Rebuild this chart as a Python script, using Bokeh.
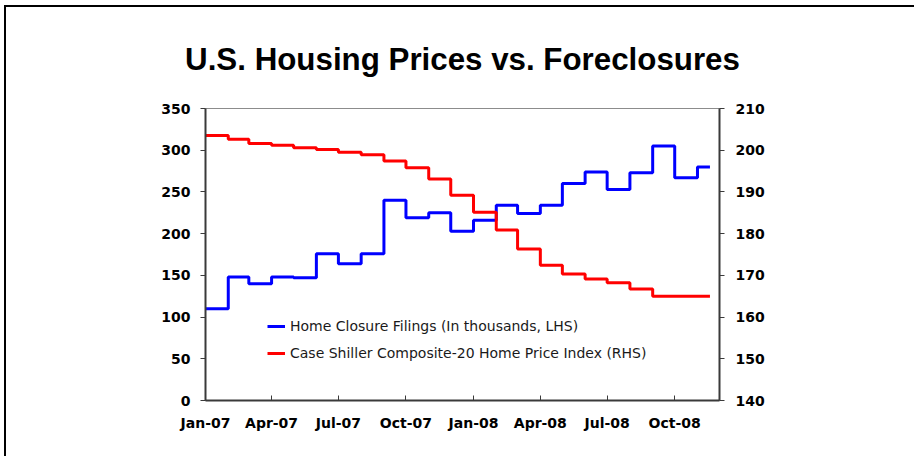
import pandas as pd
from bokeh.plotting import figure
from bokeh.models import Range1d, LinearAxis, FixedTicker, Legend
from bokeh.embed import file_html
from bokeh.resources import INLINE

# ---- data ----
start_month = "2007-01-01"
series_end = "2008-11-18"
axis_end = "2008-12-01"
foreclosures = [110, 148, 140, 148, 147, 176, 164, 176, 240, 219, 225, 203,
                216, 234, 224, 234, 260, 274, 253, 273, 305, 267, 280]
case_shiller = [203.5, 202.6, 201.6, 201.2, 200.6, 200.2, 199.5, 198.9, 197.4, 195.8, 193.1, 189.2,
                185.1, 180.9, 176.3, 172.4, 170.3, 169.1, 168.2, 166.7, 165.0, 165.0, 165.0]
tick_dates = ["2007-01-01", "2007-04-01", "2007-07-01", "2007-10-01",
              "2008-01-01", "2008-04-01", "2008-07-01", "2008-10-01"]
tick_labels = ["Jan-07", "Apr-07", "Jul-07", "Oct-07", "Jan-08", "Apr-08", "Jul-08", "Oct-08"]
lhs_ticks = [0, 50, 100, 150, 200, 250, 300, 350]
rhs_ticks = [140, 150, 160, 170, 180, 190, 200, 210]
title_text = "U.S. Housing Prices vs. Foreclosures"
label_lhs = "Home Closure Filings (In thousands, LHS)"
label_rhs = "Case Shiller Composite-20 Home Price Index (RHS)"

t0 = pd.Timestamp(start_month)
months = pd.date_range(start_month, periods=len(foreclosures), freq="MS")
xs = [(d - t0).days for d in months] + [(pd.Timestamp(series_end) - t0).days]
x_max = (pd.Timestamp(axis_end) - t0).days
tick_pos = [(pd.Timestamp(d) - t0).days for d in tick_dates]

fc_y = foreclosures + [foreclosures[-1]]
cs_y = case_shiller + [case_shiller[-1]]

AX = "#3a3a3a"
TICK_FONT = "DejaVu Sans"
# chart-area border sits at (4,5); canvas starts just inside it at (6,7)
OFF_X, OFF_Y = 6, 7
FRAME_LEFT, FRAME_TOP, FRAME_RIGHT, FRAME_BOTTOM = 205 - OFF_X, 108 - OFF_Y, 719 - OFF_X, 400 - OFF_Y
W, H = 910, 451

p = figure(width=W, height=H, output_backend="svg", toolbar_location=None,
           x_range=Range1d(0, x_max), y_range=Range1d(0, 350),
           min_border_left=FRAME_LEFT, min_border_right=W - FRAME_RIGHT,
           min_border_top=FRAME_TOP, min_border_bottom=H - FRAME_BOTTOM,
           title=title_text)
p.margin = (OFF_Y - 2, 0, 0, OFF_X - 2)
p.styles = {"border-top": "2px solid #000000", "border-left": "2px solid #000000"}

p.title.align = "center"
p.title.text_font = "Liberation Sans"
p.title.text_font_size = "31.3px"
p.title.text_font_style = "bold"
p.title.text_color = "#000000"
p.title.standoff = 63

p.extra_y_ranges = {"rhs": Range1d(140, 210)}

p.grid.visible = False
p.outline_line_color = "#8c8c8c"
p.outline_line_width = 1
p.background_fill_color = "white"
p.border_fill_color = "white"

# x axis
xa = p.xaxis[0]
xa.ticker = FixedTicker(ticks=tick_pos)
xa.major_label_overrides = {tp: lab for tp, lab in zip(tick_pos, tick_labels)}
xa.major_tick_in = 5
xa.major_tick_out = 0
xa.minor_tick_line_color = None
xa.axis_line_color = AX
xa.axis_line_width = 2
xa.major_tick_line_color = AX
xa.major_label_text_font = TICK_FONT
xa.major_label_text_font_style = "bold"
xa.major_label_text_font_size = "14px"
xa.major_label_text_color = "#000000"
xa.major_label_standoff = 14

# left axis
ya = p.yaxis[0]
ya.ticker = FixedTicker(ticks=lhs_ticks)
ya.major_tick_in = 0
ya.major_tick_out = 5
ya.minor_tick_line_color = None
ya.axis_line_color = AX
ya.axis_line_width = 2
ya.major_tick_line_color = AX
ya.major_label_text_font = TICK_FONT
ya.major_label_text_font_style = "bold"
ya.major_label_text_font_size = "14px"
ya.major_label_text_color = "#000000"
ya.major_label_standoff = 10

# right axis
ra = LinearAxis(y_range_name="rhs", ticker=FixedTicker(ticks=rhs_ticks))
ra.major_tick_in = 0
ra.major_tick_out = 5
ra.minor_tick_line_color = None
ra.axis_line_color = AX
ra.axis_line_width = 2
ra.major_tick_line_color = AX
ra.major_label_text_font = TICK_FONT
ra.major_label_text_font_style = "bold"
ra.major_label_text_font_size = "14px"
ra.major_label_text_color = "#000000"
ra.major_label_standoff = 11
p.add_layout(ra, "right")

r1 = p.step(x=xs, y=fc_y, mode="after", line_color="#0000FF", line_width=3)
r2 = p.step(x=xs, y=cs_y, mode="after", line_color="#FF0000", line_width=3, y_range_name="rhs")

legend = Legend(items=[(label_lhs, [r1]), (label_rhs, [r2])], location=(62, 37))
legend.padding = 0
legend.margin = 0
legend.border_line_color = None
legend.background_fill_alpha = 0
legend.glyph_width = 18
legend.glyph_height = 20
legend.label_height = 20
legend.label_standoff = 5
legend.spacing = 7
legend.label_text_font = TICK_FONT
legend.label_text_font_size = "14px"
legend.label_text_color = "#1a1a1a"
p.add_layout(legend, "center")

open("out.html", "w").write(file_html(p, INLINE))
